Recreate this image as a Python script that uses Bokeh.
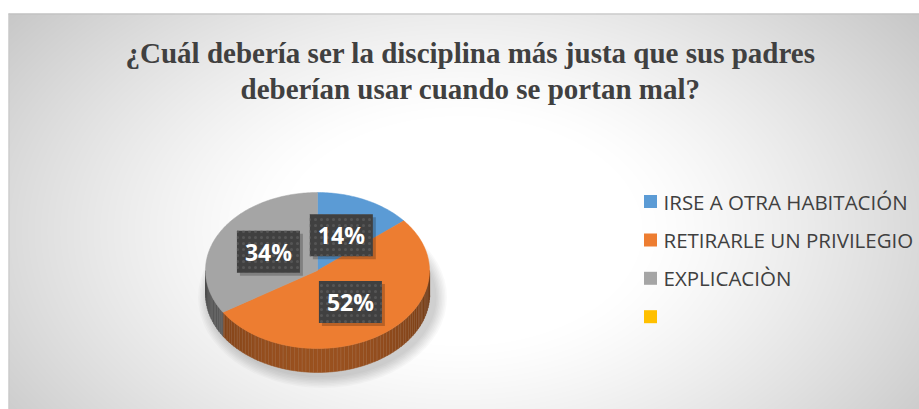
import numpy as np
from bokeh.plotting import figure
from bokeh.models import Range1d
from bokeh.core.properties import value
from bokeh.embed import file_html
from bokeh.resources import INLINE

# ---------------- data ----------------
title_lines = ["¿Cuál debería ser la disciplina más justa que sus padres",
               "deberían usar cuando se portan mal?"]
categories = ["IRSE A OTRA HABITACIÓN", "RETIRARLE UN PRIVILEGIO", "EXPLICACIÒN", ""]
values = [14, 52, 34, 0]
colors = ["#5B9BD5", "#ED7D31", "#A5A5A5", "#FFC000"]

# ---------------- canvas (screen-like coordinates) ----------------
W, H = 919, 409


def Y(y):
    return H - np.asarray(y, dtype=float)


p = figure(width=W, height=H, x_range=Range1d(0, W), y_range=Range1d(0, H),
           output_backend="svg", toolbar_location=None, min_border=0,
           x_axis_location=None, y_axis_location=None)
p.grid.visible = False
p.outline_line_color = None
p.background_fill_color = "white"
p.border_fill_color = "white"

# background radial gradient (chart area)
left, top = 8, 13
bw_, bh = W - left, H - top
yy, xx = np.mgrid[0:bh, 0:bw_]
sx = xx + float(left)
sy = yy + float(top)
d = np.sqrt(((sx - 460) / 520.0) ** 2 + ((sy - 230) / 330.0) ** 2)
t = np.clip((d - 0.35) / 0.85, 0, 1)
v = (255 - 65 * t ** 1.2).astype(np.uint8)
img = np.empty((bh, bw_), dtype=np.uint32)
view = img.view(dtype=np.uint8).reshape((bh, bw_, 4))
view[..., 0] = v
view[..., 1] = v
view[..., 2] = v
view[..., 3] = 255
p.image_rgba(image=[np.flipud(img)], x=left, y=0, dw=bw_, dh=bh)
p.line([left, W], [Y(top + 0.5), Y(top + 0.5)], line_color="#bdbdbd", line_width=1)
p.line([left + 0.5, left + 0.5], [Y(top), 0], line_color="#c8c8c8", line_width=1)

# ---------------- title ----------------
for i, line in enumerate(title_lines):
    p.text(x=[470], y=[Y(52 + 36 * i)], text=[line],
           text_font=value("Liberation Serif"), text_font_style="bold",
           text_font_size="29px", text_color="#404040",
           text_align="center", text_baseline="middle")

# ---------------- 3D pie ----------------
cx, cy, rx, ry, depth = 317.0, 270.0, 112.0, 78.0, 24.0
vals = np.array(values[:3], dtype=float)
fr = vals / vals.sum()
ends = np.cumsum(fr) * 360.0
starts = np.concatenate([[0.0], ends[:-1]])


def pt(th, dy=0.0):
    r = np.radians(th)
    return cx + rx * np.sin(r), cy - ry * np.cos(r) + dy


def hex2rgb(h):
    h = h.lstrip("#")
    return [int(h[i:i + 2], 16) for i in (0, 2, 4)]


def shade(h, f):
    r, g, b = hex2rgb(h)
    return "#%02x%02x%02x" % (int(r * f), int(g * f), int(b * f))


# soft shadow
for k in range(8):
    p.ellipse(x=[cx + 5], y=Y(cy + depth + 3), width=2 * rx + 4 + 3 * k,
              height=2 * ry + 4 + 3 * k, fill_color="black", fill_alpha=0.025,
              line_color=None)

# sides
sxs, sys_, scol = [], [], []
for i in range(3):
    a, b = max(starts[i], 90.0), min(ends[i], 270.0)
    if a >= b:
        continue
    ts = list(np.arange(a, b, 2.0)) + [b]
    for t0, t1 in zip(ts[:-1], ts[1:]):
        x0, y0 = pt(t0)
        x1, y1 = pt(t1)
        x2, y2 = pt(t1, depth)
        x3, y3 = pt(t0, depth)
        sxs.append([x0, x1 + 0.3, x2 + 0.3, x3])
        sys_.append(list(Y([y0, y1, y2, y3])))
        tm = 0.5 * (t0 + t1)
        f = 0.45 + 0.2 * np.cos(np.radians(tm - 180.0))
        scol.append(shade(colors[i], f))
p.patches(sxs, sys_, fill_color=scol, line_color=scol, line_width=0.5)

# top wedges
txs, tys = [], []
for i in range(3):
    ths = np.linspace(starts[i], ends[i], max(int(ends[i] - starts[i]), 2) + 1)
    px, py = pt(ths)
    txs.append([cx] + list(px))
    tys.append(list(Y([cy] + list(py))))
p.patches(txs, tys, fill_color=colors[:3], line_color=colors[:3], line_width=0.5)

# data labels
bw, bhh = 63, 42
for i in range(3):
    mid = 0.5 * (starts[i] + ends[i])
    r = np.radians(mid)
    lx = cx + 0.5 * rx * np.sin(r)
    ly = cy - 0.5 * ry * np.cos(r)
    p.rect(x=[lx + 3], y=Y(ly + 3), width=bw, height=bhh, fill_color="black",
           fill_alpha=0.22, line_color=None)
    p.rect(x=[lx], y=Y(ly), width=bw, height=bhh, fill_color="#404040",
           line_color=None, hatch_pattern="dot", hatch_color="#555555",
           hatch_scale=6, hatch_weight=1.2)
    p.text(x=[lx], y=Y(ly), text=["%d%%" % round(fr[i] * 100)],
           text_font=value("Open Sans"), text_font_style="bold",
           text_font_size="23px", text_color="white",
           text_align="center", text_baseline="middle")

# ---------------- legend ----------------
for i, (cat, col) in enumerate(zip(categories, colors)):
    ly = 201 + 38.4 * i
    p.rect(x=[650], y=Y(ly), width=13, height=13, fill_color=col, line_color=None)
    p.text(x=[663], y=Y(ly), text=[cat], text_font=value("Open Sans"),
           text_font_size="20.5px", text_color="#404040",
           text_align="left", text_baseline="middle")

open("out.html", "w").write(file_html(p, INLINE))
